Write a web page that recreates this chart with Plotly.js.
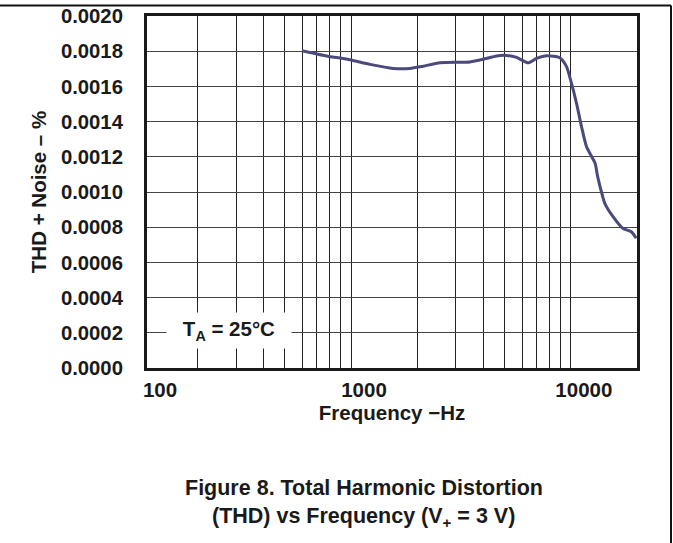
<!DOCTYPE html>
<html>
<head>
<meta charset="utf-8">
<script src="https://cdn.plot.ly/plotly-3.0.1.min.js"></script>
<style>html,body{margin:0;padding:0;background:#fff;}#chart{width:673px;height:543px;}</style>
</head>
<body>
<div id="chart"></div>
<script>
// Frequency (Hz) and THD+N (%)
const freqHz = [598, 803, 891, 1000, 1220, 1556, 1853, 2131, 2539, 3475, 3996, 4591, 5100, 5663, 6387, 6981, 7771, 8913, 9560, 10073, 10615, 11186, 11786, 12893, 13245, 13967, 14270, 15560, 17240, 18850, 19850];
const thdN = [0.001803, 0.001769, 0.001761, 0.001750, 0.001725, 0.001702, 0.001702, 0.001715, 0.001734, 0.001739, 0.001754, 0.001773, 0.001776, 0.001765, 0.001734, 0.001759, 0.001774, 0.001763, 0.001712, 0.001617, 0.001504, 0.001371, 0.001257, 0.001163, 0.001087, 0.000973, 0.000936, 0.000860, 0.000794, 0.000774, 0.000737];

const xStart = 118, xEnd = 20000;
const labelFreqs = [xStart, 1000, 10000];
const labelText = ["100", "1000", "10000"];
const gridFreqs = [200, 300, 400, 500, 600, 700, 800, 900, 1000, 2000, 3000, 4000, 5000, 6000, 7000, 8000, 9000, 10000];

const FONT = "Liberation Sans, Arial, Helvetica, sans-serif";
const bold = (size) => ({family: FONT, size: size, color: "#1a1a1a", weight: "bold"});

const trace = {
  x: freqHz, y: thdN, type: "scatter", mode: "lines",
  line: {color: "#4a4a7c", width: 3, shape: "spline", smoothing: 0.6},
  hoverinfo: "skip"
};

const layout = {
  width: 673, height: 543,
  margin: {l: 147, r: 36, t: 16, b: 175},
  paper_bgcolor: "#fff", plot_bgcolor: "#fff",
  showlegend: false,
  xaxis: {
    type: "log",
    range: [Math.log10(xStart), Math.log10(xEnd)],
    tickmode: "array", tickvals: labelFreqs, ticktext: labelText,
    showgrid: false,
    minor: {tickmode: "array", tickvals: gridFreqs, showgrid: true, gridcolor: "#222", gridwidth: 1, ticks: ""},
    showline: true, linecolor: "#1a1a1a", linewidth: 3, mirror: true,
    ticks: "", zeroline: false,
    tickfont: bold(20.5), ticklabelshift: 13, ticklabelstandoff: 1,
    title: {text: "Frequency −Hz", font: bold(20.5), standoff: 0},
    automargin: false, fixedrange: true
  },
  yaxis: {
    range: [0, 0.002], dtick: 0.0002, tick0: 0, tickformat: ".4f",
    showgrid: true, gridcolor: "#444", gridwidth: 1,
    showline: true, linecolor: "#1a1a1a", linewidth: 3, mirror: true,
    ticks: "", zeroline: false,
    tickfont: bold(20.3), ticklabelstandoff: 17,
    title: {text: "THD + Noise – %", font: bold(20.5), standoff: 9},
    automargin: false, fixedrange: true
  },
  annotations: [
    {xref: "paper", yref: "paper", x: 0.1673, y: 0.1065, xanchor: "center", yanchor: "middle",
     text: "T<sub>A</sub> = 25°C", showarrow: false, font: bold(20.5),
     bgcolor: "#fff", width: 124, height: 35, borderpad: 0},
    {xref: "paper", yref: "paper", x: (363.5 - 147) / 490, y: (368 - 488) / 352, xanchor: "center", yanchor: "middle",
     text: "Figure 8. Total Harmonic Distortion", showarrow: false, font: bold(21.5)},
    {xref: "paper", yref: "paper", x: (363.5 - 147) / 490, y: (368 - 517) / 352, xanchor: "center", yanchor: "middle",
     text: "(THD) vs Frequency (V<sub>+</sub> = 3 V)", showarrow: false, font: bold(21.5)}
  ],
  shapes: [
    {type: "line", xref: "paper", yref: "paper", x0: -0.31, x1: (671 - 147) / 490, y0: (368 - 5.5) / 352, y1: (368 - 5.5) / 352,
     line: {color: "#111", width: 2}},
    {type: "line", xref: "paper", yref: "paper", x0: (671 - 147) / 490, x1: (671 - 147) / 490, y0: (368 - 5.5) / 352, y1: -0.52,
     line: {color: "#111", width: 2}}
  ]
};

Plotly.newPlot("chart", [trace], layout, {displayModeBar: false, staticPlot: true});
</script>
</body>
</html>
